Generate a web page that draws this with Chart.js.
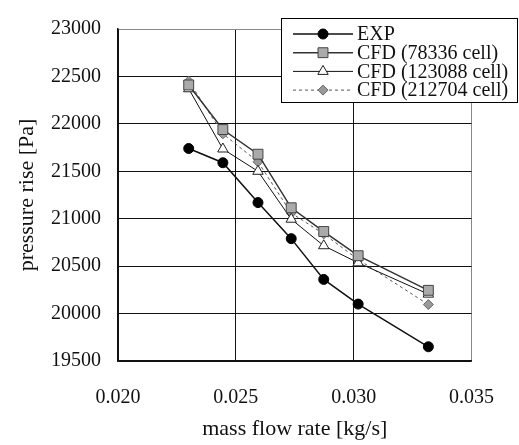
<!DOCTYPE html>
<html>
<head>
<meta charset="utf-8">
<script src="https://cdn.jsdelivr.net/npm/chart.js"></script>
<style>
  body { margin: 0; background: #fff; }
  #wrap { width: 519px; height: 445px; }
</style>
</head>
<body>
<div id="wrap"><canvas id="chart" width="519" height="445"></canvas></div>
<script>
// mass flow rate [kg/s]
let massFlow = [0.0230, 0.02445, 0.02594, 0.02735, 0.02873, 0.03019, 0.03317];
// pressure rise [Pa]
let expData = [21740, 21590, 21170, 20790, 20360, 20100, 19650];
let cfd78336 = [22410, 21940, 21680, 21115, 20865, 20610, 20245];
let cfd123088 = [22370, 21735, 21500, 20995, 20715, 20535, 20205];
let cfd212704 = [22450, 21895, 21600, 21060, 20840, 20570, 20095];
let seriesLabels = ['EXP', 'CFD (78336 cell)', 'CFD (123088 cell)', 'CFD (212704 cell)'];

const serif = "'Liberation Serif', 'Times New Roman', serif";

function toPoints(ys) {
    return massFlow.map((x, i) => ({ x: x, y: ys[i] }));
}

// draws one marker like the chart does
function marker(ctx, ds, x, y) {
    let r = ds.pointRadius;
    ctx.save();
    ctx.fillStyle = ds.pointBackgroundColor;
    ctx.strokeStyle = ds.pointBorderColor;
    ctx.lineWidth = ds.pointBorderWidth;
    ctx.setLineDash([]);
    ctx.beginPath();
    if (ds.pointStyle === 'circle') {
        ctx.arc(x, y, r, 0, Math.PI * 2);
    } else if (ds.pointStyle === 'rect') {
        let s = r * Math.SQRT1_2;
        ctx.rect(x - s, y - s, 2 * s, 2 * s);
    } else if (ds.pointStyle === 'triangle') {
        ctx.moveTo(x, y - r);
        ctx.lineTo(x + r * 0.866, y + r * 0.5);
        ctx.lineTo(x - r * 0.866, y + r * 0.5);
        ctx.closePath();
    } else {
        ctx.moveTo(x, y - r);
        ctx.lineTo(x + r, y);
        ctx.lineTo(x, y + r);
        ctx.lineTo(x - r, y);
        ctx.closePath();
    }
    ctx.fill();
    ctx.stroke();
    ctx.restore();
}

// legend box drawn on top of the plot
const boxLegend = {
    id: 'boxLegend',
    afterDraw(chart) {
        let ctx = chart.ctx;
        let left = 281, top = 18, right = 518, bottom = 103;
        ctx.save();
        ctx.fillStyle = '#fff';
        ctx.fillRect(left, top, right - left, bottom - top);
        ctx.strokeStyle = '#000';
        ctx.lineWidth = 1;
        ctx.strokeRect(left + 0.5, top + 0.5, right - left - 1, bottom - top - 1);
        chart.data.datasets.forEach((ds, i) => {
            let y = 34 + i * 18.7;
            ctx.strokeStyle = ds.borderColor;
            ctx.lineWidth = ds.borderWidth;
            ctx.setLineDash(ds.borderDash || []);
            ctx.beginPath();
            ctx.moveTo(293, y);
            ctx.lineTo(353, y);
            ctx.stroke();
            marker(ctx, ds, 323, y);
            ctx.fillStyle = '#111';
            ctx.font = '20px ' + serif;
            ctx.textBaseline = 'middle';
            ctx.textAlign = 'left';
            ctx.fillText(ds.label, 357, y + 1);
        });
        ctx.restore();
    }
};

let ctx = document.getElementById('chart').getContext('2d');
new Chart(ctx, {
    type: 'scatter',
    data: {
        datasets: [{
            label: seriesLabels[0],
            data: toPoints(expData),
            showLine: true,
            borderColor: '#111',
            borderWidth: 1.5,
            pointStyle: 'circle',
            pointRadius: 5,
            pointBackgroundColor: '#000',
            pointBorderColor: '#000',
            pointBorderWidth: 1
        }, {
            label: seriesLabels[1],
            data: toPoints(cfd78336),
            showLine: true,
            borderColor: '#333',
            borderWidth: 1.5,
            pointStyle: 'rect',
            pointRadius: 7,
            pointBackgroundColor: '#aaa',
            pointBorderColor: '#444',
            pointBorderWidth: 1
        }, {
            label: seriesLabels[2],
            data: toPoints(cfd123088),
            showLine: true,
            borderColor: '#111',
            borderWidth: 1,
            pointStyle: 'triangle',
            pointRadius: 6,
            pointBackgroundColor: '#fff',
            pointBorderColor: '#222',
            pointBorderWidth: 1
        }, {
            label: seriesLabels[3],
            data: toPoints(cfd212704),
            showLine: true,
            borderColor: '#555',
            borderWidth: 1,
            borderDash: [3, 3],
            pointStyle: 'rectRot',
            pointRadius: 5,
            pointBackgroundColor: '#999',
            pointBorderColor: '#666',
            pointBorderWidth: 1
        }]
    },
    options: {
        responsive: false,
        animation: false,
        layout: { padding: { left: 0, top: 15, right: 32, bottom: 0 } },
        plugins: {
            legend: { display: false },
            tooltip: { enabled: false }
        },
        scales: {
            x: {
                type: 'linear',
                min: 0.020,
                max: 0.035,
                afterFit: (s) => { s.height = 84; },
                ticks: {
                    stepSize: 0.005,
                    padding: 25,
                    color: '#111',
                    font: { family: serif, size: 20 },
                    callback: (v) => v.toFixed(3)
                },
                grid: {
                    drawTicks: false,
                    color: (c) => c.index === 3 ? '#888' : '#111',
                    lineWidth: 1
                },
                border: { color: '#111', width: 1.5 },
                title: {
                    display: true,
                    text: 'mass flow rate [kg/s]',
                    color: '#111',
                    font: { family: serif, size: 22 },
                    padding: { top: 0, bottom: 3 }
                }
            },
            y: {
                min: 19500,
                max: 23000,
                afterFit: (s) => { s.width = 118; },
                ticks: {
                    stepSize: 500,
                    padding: 17,
                    color: '#111',
                    font: { family: serif, size: 20 },
                    callback: (v) => String(v)
                },
                grid: {
                    drawTicks: false,
                    color: (c) => c.index === 7 ? '#888' : '#111',
                    lineWidth: 1
                },
                border: { color: '#111', width: 1.5 },
                title: {
                    display: true,
                    text: 'pressure rise [Pa]',
                    color: '#111',
                    font: { family: serif, size: 22 },
                    padding: { top: 14, bottom: 0 }
                }
            }
        }
    },
    plugins: [boxLegend]
});
</script>
</body>
</html>
